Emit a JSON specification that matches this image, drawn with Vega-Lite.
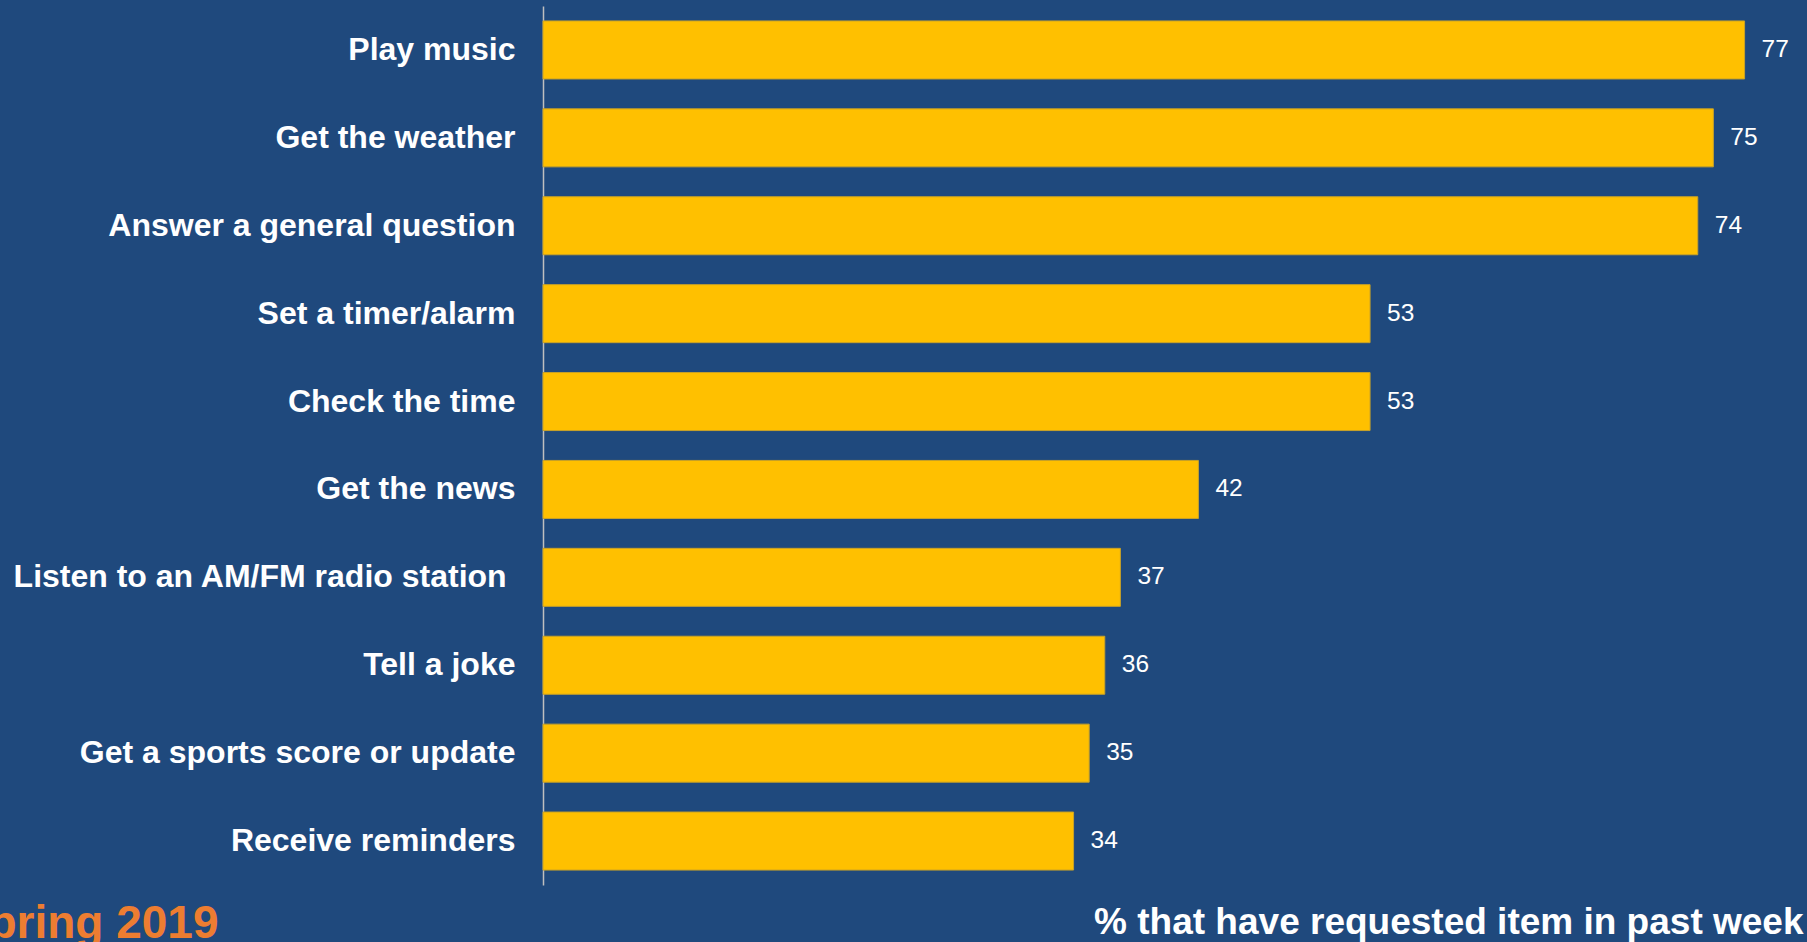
{
  "$schema": "https://vega.github.io/schema/vega-lite/v6.json",
  "width": 1264,
  "height": 879,
  "autosize": {"type": "none"},
  "padding": {"left": 543, "top": 6, "right": 0, "bottom": 57},
  "background": "#1F497D",
  "config": {"view": {"stroke": null}, "font": "Liberation Sans"},
  "data": {
    "values": [
      {"item": "Play music", "pct": 77},
      {"item": "Get the weather", "pct": 75},
      {"item": "Answer a general question", "pct": 74},
      {"item": "Set a timer/alarm", "pct": 53},
      {"item": "Check the time", "pct": 53},
      {"item": "Get the news", "pct": 42},
      {"item": "Listen to an AM/FM radio station\u00a0\u200b", "pct": 37},
      {"item": "Tell a joke", "pct": 36},
      {"item": "Get a sports score or update", "pct": 35},
      {"item": "Receive reminders", "pct": 34}
    ]
  },
  "encoding": {
    "y": {
      "field": "item",
      "type": "nominal",
      "sort": null,
      "scale": {"paddingInner": 0.34, "paddingOuter": 0.17},
      "axis": {
        "title": "Spring 2019",
        "titleAngle": 0,
        "titleAlign": "right",
        "titleBaseline": "alphabetic",
        "titleX": -325,
        "titleY": 931,
        "titleColor": "#ED7D31",
        "titleFont": "Liberation Sans",
        "titleFontWeight": "bold",
        "titleFontSize": 46,
        "labelColor": "#FFFFFF",
        "labelFont": "Liberation Sans",
        "labelFontWeight": "bold",
        "labelFontSize": 32,
        "labelPadding": 28,
        "labelLimit": 600,
        "ticks": false,
        "domain": true,
        "domainColor": "#BFBFBF",
        "domainWidth": 1.5,
        "grid": false
      }
    },
    "x": {
      "field": "pct",
      "type": "quantitative",
      "scale": {"domain": [0, 81], "nice": false},
      "axis": {
        "title": "% that have requested item in past week",
        "titleAnchor": "end",
        "titleAlign": "right",
        "titleBaseline": "alphabetic",
        "titleX": 1260,
        "titleY": 48,
        "titleColor": "#FFFFFF",
        "titleFont": "Liberation Sans",
        "titleFontWeight": "bold",
        "titleFontSize": 37,
        "labels": false,
        "ticks": false,
        "domain": false,
        "grid": false
      }
    }
  },
  "layer": [
    {
      "mark": {"type": "bar", "color": "#FFC000", "stroke": "#C9A227", "strokeWidth": 1}
    },
    {
      "mark": {"type": "text", "align": "left", "baseline": "middle", "dx": 17, "color": "#FFFFFF", "font": "Liberation Sans", "fontSize": 24.5},
      "encoding": {"text": {"field": "pct", "type": "quantitative"}}
    }
  ]
}
